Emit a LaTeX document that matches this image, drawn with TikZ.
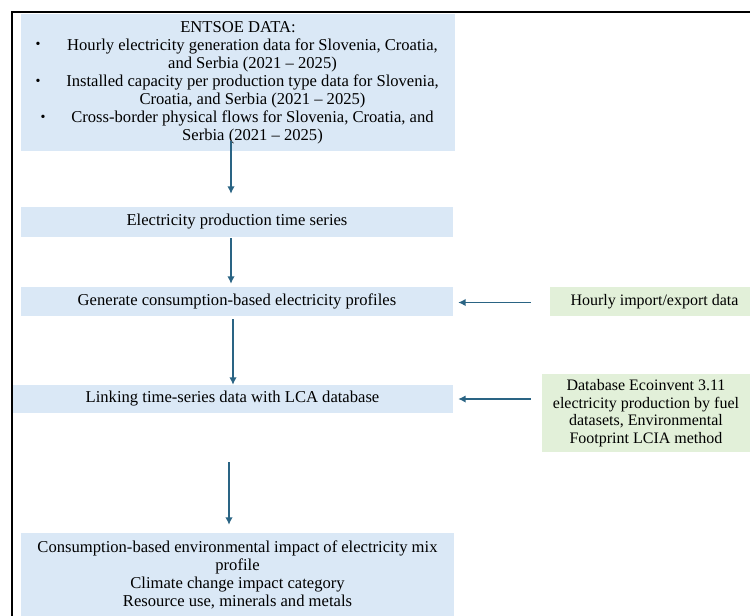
\documentclass[tikz,border=0pt]{standalone}
\usepackage{fontspec}
\setmainfont{Liberation Serif}
\usetikzlibrary{arrows.meta}
\definecolor{boxblue}{HTML}{DAE8F6}
\definecolor{boxgreen}{HTML}{E2F0D9}
\definecolor{arrowblue}{HTML}{2A6484}
% indent for the bulleted lines of the data box
\newcommand{\bulletindent}{\hspace*{29pt}}

\begin{document}
\begin{tikzpicture}[x=1pt,y=-1pt,
  blueblock/.style={fill=boxblue, draw=none, inner sep=0pt, align=center,
    font=\fontsize{16.6}{18}\selectfont},
  greenblock/.style={fill=boxgreen, draw=none, inner sep=0pt, align=center,
    font=\fontsize{16}{17.5}\selectfont},
  flow/.style={draw=arrowblue, line width=1.7pt,
    -{Latex[length=7.5pt,width=7.5pt]}},
  dot/.style={inner sep=0pt, font=\fontsize{14}{14}\selectfont}]
\useasboundingbox (0,0) rectangle (750,616);
\fill[white] (0,0) rectangle (750,616);

% main column
\node[blueblock, minimum width=434pt, minimum height=137pt] (entsoe) at (238,82.5)
  {ENTSOE DATA:\\
   \bulletindent Hourly electricity generation data for Slovenia, Croatia,\\
   \bulletindent and Serbia (2021 -- 2025)\\
   \bulletindent Installed capacity per production type data for Slovenia,\\
   \bulletindent Croatia, and Serbia (2021 -- 2025)\\
   \bulletindent Cross-border physical flows for Slovenia, Croatia, and\\
   \bulletindent Serbia (2021 -- 2025)};
\node[dot] (b1) at (38,45) {\textbullet};
\node[dot] (b2) at (38,82) {\textbullet};
\node[dot] (b3) at (43,118) {\textbullet};

\node[blueblock, minimum width=432pt, minimum height=30pt] (series) at (237,222)
  {Electricity production time series};
\node[blueblock, minimum width=432pt, minimum height=29pt] (profiles) at (237,301.5)
  {Generate consumption-based electricity profiles};
\node[blueblock, minimum width=441pt, minimum height=28pt] (linking) at (232.5,399)
  {Linking time-series data with LCA database};
\node[blueblock, minimum width=433pt, minimum height=83pt] (impact) at (237.5,574.5)
  {\makebox[400pt][s]{Consumption-based environmental impact of electricity mix}\\
   profile\\
   Climate change impact category\\
   Resource use, minerals and metals};

% side inputs
\node[greenblock, minimum width=200pt, minimum height=29pt] (trade) at (650,301.5)
  {\hspace*{9pt}Hourly import/export data};
\node[greenblock, minimum width=208pt, minimum height=78pt] (ecoinvent) at (646,413)
  {Database Ecoinvent 3.11\\
   electricity production by fuel\\
   datasets, Environmental\\
   Footprint LCIA method};

% connectors
\coordinate (c1) at (231,0);
\coordinate (c3) at (233,0);
\coordinate (c4) at (229,0);
\draw[flow, shorten <=-10pt, shorten >=13pt] (entsoe.south -| c1) -- (series.north -| c1);
\draw[flow, shorten <=1pt, shorten >=3pt] (series.south -| c1) -- (profiles.north -| c1);
\draw[flow, shorten <=3pt] (profiles.south -| c3) -- (linking.north -| c3);
\draw[flow, shorten <=49pt, shorten >=8pt] (linking.south -| c4) -- (impact.north -| c4);
\draw[flow, shorten <=19pt, shorten >=5pt] ([yshift=-1pt]trade.west) -- ([yshift=-1pt]profiles.east);
\draw[flow, shorten <=11pt, shorten >=5pt] (ecoinvent.west |- linking.east) -- (linking.east);

% frame
\draw[line width=2.2pt] (12,616) -- (12,12) -- (750,12);
\end{tikzpicture}
\end{document}
